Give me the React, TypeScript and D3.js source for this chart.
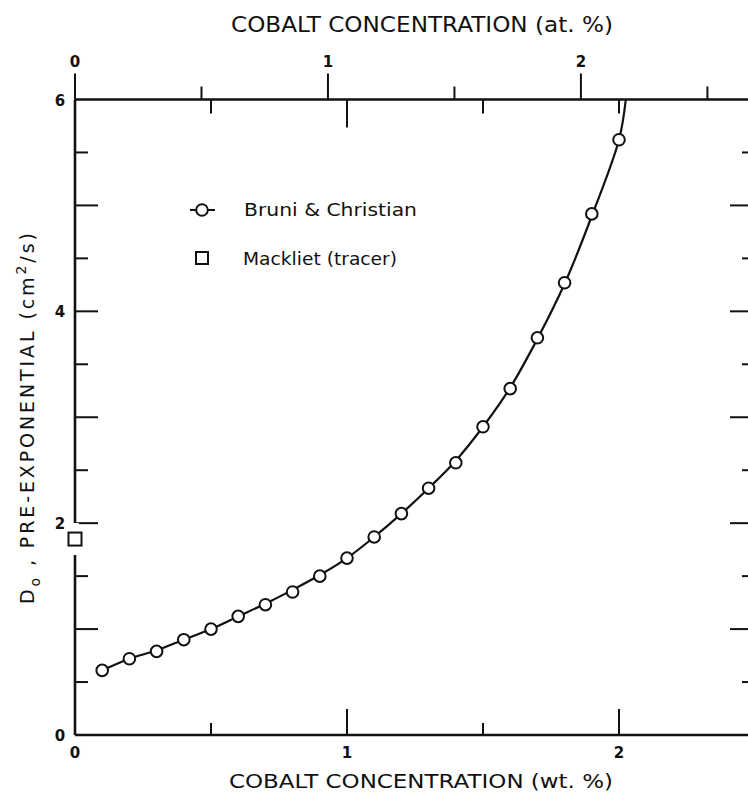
import React from "react";
import * as d3 from "d3";

// ---- data ----
const wtPct = [0.1, 0.2, 0.3, 0.4, 0.5, 0.6, 0.7, 0.8, 0.9, 1.0, 1.1, 1.2, 1.3, 1.4, 1.5, 1.6, 1.7, 1.8, 1.9, 2.0];
const d0Bruni = [0.61, 0.72, 0.79, 0.9, 1.0, 1.12, 1.23, 1.35, 1.5, 1.67, 1.87, 2.09, 2.33, 2.57, 2.91, 3.27, 3.75, 4.27, 4.92, 5.62];
const curveWt = [0.1, 0.2, 0.3, 0.4, 0.5, 0.6, 0.7, 0.8, 0.9, 1.0, 1.1, 1.2, 1.3, 1.4, 1.5, 1.6, 1.7, 1.8, 1.9, 2.0, 2.025];
const curveD0 = [0.61, 0.72, 0.8, 0.9, 1.0, 1.12, 1.24, 1.37, 1.51, 1.67, 1.87, 2.09, 2.33, 2.59, 2.91, 3.28, 3.74, 4.26, 4.9, 5.62, 6.0];
const mackWt = [0];
const mackD0 = [1.85];

const wtTicks = [0.5, 1, 1.5, 2];
const wtLabels = [0, 1, 2];
const atTicks = [0, 0.5, 1, 1.5, 2, 2.5];
const atLabels = [0, 1, 2];
const atToWt = 0.93; // at.% -> wt.% (Co in Cu)
const yTicks = [0.5, 1, 1.5, 2, 2.5, 3, 3.5, 4, 4.5, 5, 5.5];
const yLabels = [0, 2, 4, 6];

const W = 748;
const H = 794;
const FONT = "'DejaVu Sans', 'Liberation Sans', sans-serif";

export default function App() {
  const x = d3.scaleLinear().domain([0, 2.5]).range([75, 755]);
  const y = d3.scaleLinear().domain([0, 6]).range([735, 99.5]);
  const xAt = (a: number) => x(a * atToWt);

  const line = d3
    .line<number>()
    .x((_, i) => x(curveWt[i]))
    .y((d) => y(d))
    .curve(d3.curveCatmullRom.alpha(0.5));

  const isInt = (v: number) => Math.abs(v - Math.round(v)) < 1e-9;
  const left = x(0);
  const right = x(2.5);
  const top = y(6);
  const bottom = y(0);

  return (
    <svg
      width={W}
      height={H}
      viewBox={`0 0 ${W} ${H}`}
      style={{ position: "absolute", left: 0, top: 0, display: "block", background: "#fff" }}
      fontFamily={FONT}
    >
      <defs>
        <clipPath id="clip">
          <rect x={0} y={0} width={W} height={H} />
        </clipPath>
      </defs>
      <g clipPath="url(#clip)" stroke="#111" fill="none">
        {/* frame */}
        <line x1={left} x2={right + 2} y1={top} y2={top} strokeWidth={2.6} />
        <line x1={left} x2={right + 2} y1={bottom} y2={bottom} strokeWidth={2.6} />
        <line x1={left} x2={left} y1={top} y2={bottom} strokeWidth={2.6} />
        <line x1={right} x2={right} y1={top} y2={bottom} strokeWidth={2.6} />

        {/* top ticks, at.% (outside) */}
        {atTicks.map((a) => (
          <line key={"at" + a} x1={xAt(a)} x2={xAt(a)} y1={top} y2={top - (isInt(a) ? 26 : 13)} strokeWidth={2} />
        ))}
        {/* top ticks, wt.% (inside) */}
        {wtTicks.map((w) => (
          <line key={"tw" + w} x1={x(w)} x2={x(w)} y1={top} y2={top + (w === 1 ? 28 : 14)} strokeWidth={2} />
        ))}
        {/* bottom ticks (inside) */}
        {wtTicks.map((w) => (
          <line key={"bw" + w} x1={x(w)} x2={x(w)} y1={bottom} y2={bottom - (isInt(w) ? 26 : 12)} strokeWidth={2} />
        ))}
        {/* left & right ticks */}
        {yTicks.map((v) => (
          <g key={"y" + v}>
            <line x1={left} x2={left + (isInt(v) ? 23 : 13)} y1={y(v)} y2={y(v)} strokeWidth={2} />
            <line x1={right} x2={right - (isInt(v) ? 25 : 13)} y1={y(v)} y2={y(v)} strokeWidth={2} />
          </g>
        ))}

        {/* fitted curve */}
        <path d={line(curveD0) || ""} strokeWidth={2.2} />

        {/* Bruni & Christian points */}
        {wtPct.map((w, i) => (
          <circle key={"p" + i} cx={x(w)} cy={y(d0Bruni[i])} r={5.8} fill="#fff" strokeWidth={2} />
        ))}

        {/* Mackliet square */}
        {mackWt.map((w, i) => (
          <g key={"m" + i}>
            <rect x={x(w) - 4} y={y(mackD0[i]) - 16} width={8} height={32} fill="#fff" stroke="none" />
            <rect x={x(w) - 6.5} y={y(mackD0[i]) - 6.5} width={13} height={13} fill="#fff" strokeWidth={2} />
          </g>
        ))}
      </g>

      {/* tick labels */}
      <g fill="#111" fontSize={15} fontWeight="bold">
        {wtLabels.map((w) => (
          <text key={"wl" + w} x={x(w)} y={bottom + 23} textAnchor="middle">
            {w}
          </text>
        ))}
        {atLabels.map((a) => (
          <text key={"al" + a} x={xAt(a)} y={top - 33} textAnchor="middle">
            {a}
          </text>
        ))}
        {yLabels.map((v) => (
          <text key={"yl" + v} x={left - 15} y={y(v) + 6} textAnchor="middle">
            {v}
          </text>
        ))}
      </g>

      {/* axis titles */}
      <g fill="#111">
        <text x={231} y={32} fontSize={21} textLength={382} lengthAdjust="spacingAndGlyphs">
          COBALT CONCENTRATION (at. %)
        </text>
        <text x={229} y={788} fontSize={20} textLength={384} lengthAdjust="spacingAndGlyphs">
          COBALT CONCENTRATION (wt. %)
        </text>
        <text transform="translate(34,604) rotate(-90)" fontSize={19} letterSpacing={2.9}>
          <tspan>D</tspan>
          <tspan dy={6} fontSize={14}>o</tspan>
          <tspan dy={-6}> , PRE-EXPONENTIAL (cm</tspan>
          <tspan dy={-8} fontSize={14}>2</tspan>
          <tspan dy={8}>/s)</tspan>
        </text>
      </g>

      {/* legend */}
      <g stroke="#111" fill="none">
        <line x1={190} x2={215} y1={210} y2={210} strokeWidth={2} />
        <circle cx={202} cy={210} r={5.8} fill="#fff" strokeWidth={2} />
        <rect x={196} y={252} width={12} height={12} fill="#fff" strokeWidth={2} />
      </g>
      <g fill="#111" fontSize={17}>
        <text x={244} y={216} textLength={173} lengthAdjust="spacingAndGlyphs">
          Bruni &amp; Christian
        </text>
        <text x={243} y={265} textLength={154} lengthAdjust="spacingAndGlyphs">
          Mackliet (tracer)
        </text>
      </g>
    </svg>
  );
}
